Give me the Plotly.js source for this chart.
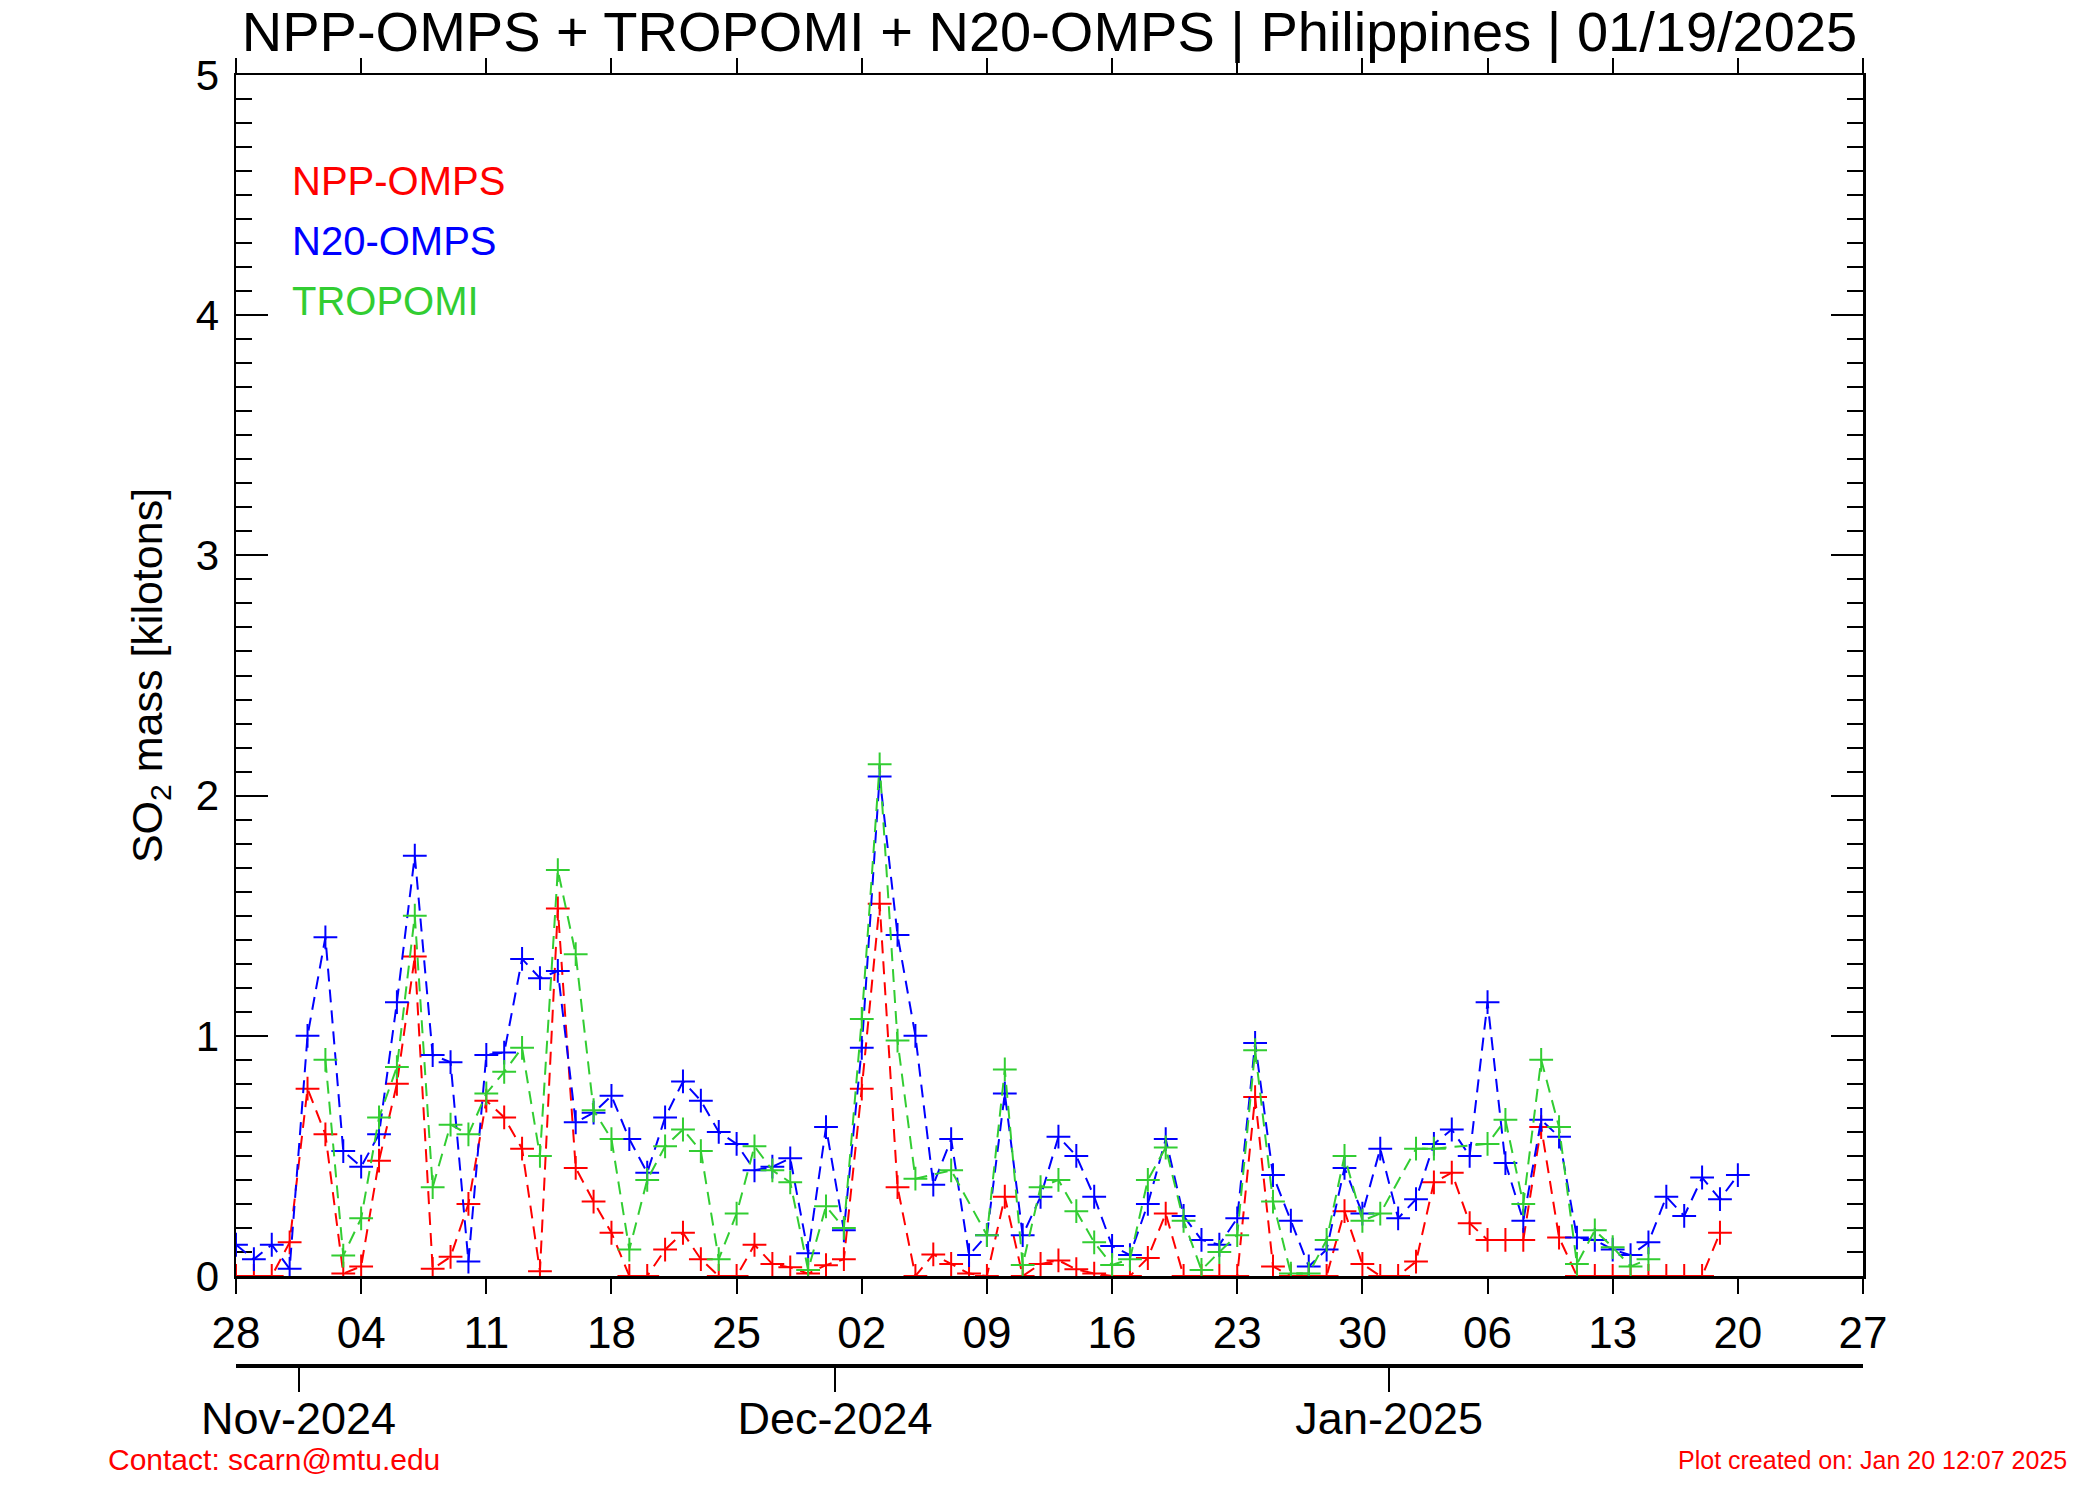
<!DOCTYPE html>
<html>
<head>
<meta charset="utf-8">
<script src="https://cdn.plot.ly/plotly-3.0.1.min.js"></script>
<style>
  html, body { margin: 0; padding: 0; background: #ffffff; }
  #chart { width: 2100px; height: 1500px; }
</style>
</head>
<body>
<div id="chart"></div>
<script>
// ---- data (daily values, SO2 mass in kilotons), first day = 28 Oct 2024 ----
const startDay = "2024-10-28";
const seriesNames = ["NPP-OMPS", "N20-OMPS", "TROPOMI"];
const seriesColors = ["#ff0000", "#0000ff", "#32cd32"];

const nppOmps = [
  0, 0, 0, 0.14, 0.78, 0.59, 0.01, 0.04, 0.48, 0.80,
  1.33, 0.03, 0.08, 0.30, 0.73, 0.66, 0.53, 0.02, 1.53, 0.45,
  0.31, 0.18, 0, 0, 0.11, 0.18, 0.07, 0, 0, 0.13,
  0.05, 0.036, 0.01, 0.045, 0.07, 0.78, 1.55, 0.37, 0, 0.09,
  0.05, 0.01, 0, 0.33, 0, 0.05, 0.065, 0.028, 0.01, 0,
  0, 0.075, 0.26, 0, 0, 0, 0, 0.745, 0.04, 0,
  0, 0, 0.27, 0.05, 0, 0, 0.06, 0.39, 0.43, 0.22,
  0.15, 0.15, 0.15, 0.62, 0.16, 0, 0, 0, 0, 0,
  0, 0, 0, 0.18
];

const n20Omps = [
  0.13, 0.07, 0.13, 0.03, 1.00, 1.41, 0.52, 0.455, 0.59, 1.14,
  1.75, 0.92, 0.89, 0.06, 0.92, 0.93, 1.32, 1.24, 1.27, 0.64,
  0.68, 0.75, 0.57, 0.43, 0.66, 0.81, 0.73, 0.60, 0.55, 0.44,
  0.455, 0.49, 0.095, 0.62, 0.19, 0.95, 2.08, 1.42, 1.00, 0.38,
  0.57, 0.087, 0.17, 0.76, 0.17, 0.33, 0.58, 0.50, 0.33, 0.125,
  0.087, 0.30, 0.57, 0.25, 0.15, 0.13, 0.24, 0.97, 0.42, 0.23,
  0.04, 0.11, 0.45, 0.26, 0.53, 0.24, 0.32, 0.55, 0.61, 0.50,
  1.14, 0.47, 0.23, 0.65, 0.58, 0.16, 0.15, 0.11, 0.087, 0.14,
  0.33, 0.25, 0.41, 0.32, 0.42
];

const tropomi = [
  null, null, null, null, null, 0.90, 0.085, 0.24, 0.66, 0.87,
  1.50, 0.37, 0.63, 0.59, 0.76, 0.85, 0.95, 0.50, 1.69, 1.34,
  0.69, 0.57, 0.11, 0.40, 0.54, 0.61, 0.52, 0.07, 0.26, 0.54,
  0.44, 0.39, 0.025, 0.29, 0.20, 1.07, 2.13, 0.98, 0.405, null,
  0.44, null, 0.17, 0.86, 0.046, 0.37, 0.40, 0.27, 0.14, 0.046,
  0.07, 0.40, 0.535, 0.23, 0.025, 0.10, 0.17, 0.94, 0.31, 0.01,
  0.01, 0.15, 0.50, 0.23, 0.26, null, 0.53, 0.53, null, null,
  0.55, 0.65, 0.30, 0.90, 0.62, 0.05, 0.19, 0.12, 0.04, 0.07
];

const titleText = "NPP-OMPS + TROPOMI + N20-OMPS | Philippines | 01/19/2025";
const yTitleText = "SO<sub>2</sub> mass [kilotons]";
const contactText = "Contact: scarn@mtu.edu";
const createdText = "Plot created on: Jan 20 12:07 2025";
const xRange = ["2024-10-28 12:00", "2025-01-27 12:00"];
const yRange = [0, 5];

// dates (one per day, plotted at noon like the source plot)
function dayDates(n) {
  const out = [];
  const base = new Date(startDay + "T12:00:00Z");
  for (let i = 0; i < n; i++) {
    const d = new Date(base.getTime() + i * 86400000);
    out.push(d.toISOString().slice(0, 10) + " 12:00");
  }
  return out;
}

const FONT = "Liberation Sans, Arial, Helvetica, sans-serif";
const seriesData = [nppOmps, n20Omps, tropomi];

const traces = seriesData.map(function (vals, i) {
  return {
    type: "scatter",
    mode: "lines+markers",
    name: seriesNames[i],
    x: dayDates(vals.length),
    y: vals,
    connectgaps: true,
    line: { color: seriesColors[i], width: 2, dash: "13px,8px" },
    marker: {
      symbol: "cross-thin",
      size: 17,
      color: seriesColors[i],
      line: { color: seriesColors[i], width: 2 }
    },
    showlegend: false
  };
});

// empty trace so the month axis is drawn
traces.push({ type: "scatter", x: [], y: [], xaxis: "x2", yaxis: "y", showlegend: false, hoverinfo: "skip" });

const W = 2100, H = 1500;
const mL = 236, mR = 237, mT = 75, mB = 135;
const plotBottomPx = 1276;
const paperH = H - mT - mB;
const yDomainLow = (H - mB - plotBottomPx) / paperH;

function paperY(px) { return (H - mB - px) / paperH; }
function paperX(px) { return (px - mL) / (W - mL - mR); }

const legendAnn = seriesNames.map(function (nm, i) {
  return {
    text: nm, xref: "paper", yref: "paper",
    x: paperX(290), y: paperY(181 + 60 * i),
    xanchor: "left", yanchor: "middle", showarrow: false,
    font: { family: FONT, size: 40, color: seriesColors[i] }
  };
});

const layout = {
  width: W, height: H,
  margin: { l: mL, r: mR, t: mT, b: mB, pad: 0 },
  paper_bgcolor: "#ffffff",
  plot_bgcolor: "#ffffff",
  font: { family: FONT, color: "#000000", size: 42 },
  title: {
    text: titleText,
    font: { family: FONT, size: 56, color: "#000000" },
    x: 0.5, xref: "paper", xanchor: "center",
    y: 1 - 31 / H, yref: "container", yanchor: "middle"
  },
  xaxis: {
    type: "date",
    range: xRange,
    tick0: "2024-10-28 12:00",
    dtick: 7 * 86400000,
    tickformat: "%d",
    ticks: "outside", ticklen: 15, tickwidth: 2, tickcolor: "#000",
    showline: true, linewidth: 2.5, linecolor: "#000",
    mirror: "ticks",
    showgrid: false, zeroline: false,
    tickfont: { family: FONT, size: 44, color: "#000" },
    ticklabelstandoff: 2,
    layer: "below traces",
    fixedrange: true
  },
  xaxis2: {
    type: "date",
    overlaying: "x",
    anchor: "free",
    position: 0,
    side: "bottom",
    range: xRange,
    tick0: "2024-11-01",
    dtick: "M1",
    tickformat: "%b-%Y",
    ticks: "outside", ticklen: 24, tickwidth: 2, tickcolor: "#000",
    showline: true, linewidth: 3.5, linecolor: "#000",
    showgrid: false, zeroline: false,
    tickfont: { family: FONT, size: 45, color: "#000" },
    ticklabelstandoff: -12
  },
  yaxis: {
    domain: [yDomainLow, 1],
    range: yRange,
    tick0: 0, dtick: 1,
    ticks: "inside", ticklen: 32, tickwidth: 2, tickcolor: "#000",
    minor: { dtick: 0.1, ticks: "inside", ticklen: 16, tickwidth: 2, tickcolor: "#000", showgrid: false },
    showline: true, linewidth: 2.5, linecolor: "#000",
    mirror: "ticks",
    showgrid: false, zeroline: false,
    tickfont: { family: FONT, size: 42, color: "#000" },
    ticklabelstandoff: 6,
    layer: "below traces",
    title: { text: yTitleText, font: { family: FONT, size: 43, color: "#000" }, standoff: 20 },
    fixedrange: true
  },
  annotations: legendAnn.concat([
    {
      text: contactText, xref: "paper", yref: "paper",
      x: paperX(106), y: paperY(1460), xanchor: "left", yanchor: "middle",
      showarrow: false, font: { family: FONT, size: 30, color: "#ff0000" }
    },
    {
      text: createdText, xref: "paper", yref: "paper",
      x: paperX(2069), y: paperY(1460), xanchor: "right", yanchor: "middle",
      showarrow: false, font: { family: FONT, size: 25, color: "#ff0000" }
    }
  ]),
  showlegend: false
};

Plotly.newPlot("chart", traces, layout, { staticPlot: true, displayModeBar: false });
</script>
</body>
</html>
